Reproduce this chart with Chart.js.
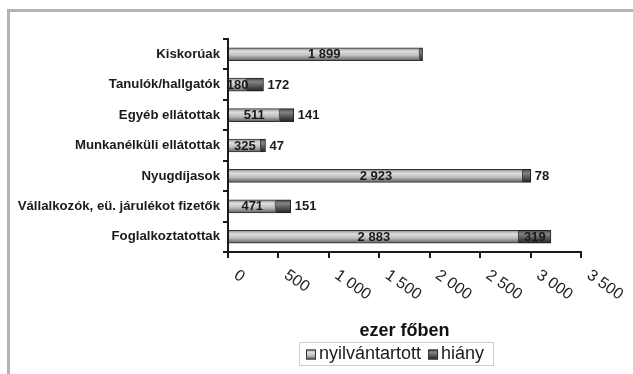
<!DOCTYPE html>
<html><head><meta charset="utf-8">
<script src="https://cdn.jsdelivr.net/npm/chart.js@4"></script>
<style>html,body{margin:0;padding:0;background:#fff;} canvas{display:block;}</style>
</head><body>
<canvas id="c" width="633" height="374"></canvas>
<script>
const categories = ['Kiskorúak','Tanulók/hallgatók','Egyéb ellátottak','Munkanélküli ellátottak','Nyugdíjasok','Vállalkozók, eü. járulékot fizetők','Foglalkoztatottak'];
const nyilvantartott = [1899,180,511,325,2923,471,2883];
const hiany = [30,172,141,47,78,151,319];
const xTicks = [0,500,1000,1500,2000,2500,3000,3500];
const seriesNames = ['nyilvántartott','hiány'];
const axisTitle = 'ezer főben';

const FONT = "'Liberation Sans', Arial, sans-serif";
const lightStops = [[0,'#8c8c8c'],[0.28,'#dedede'],[0.6,'#bdbdbd'],[1,'#5c5c5c']];
const darkStops = [[0,'#444'],[0.28,'#858585'],[0.6,'#585858'],[1,'#222']];
const BAR_H = 13;

function fmt(v){ return String(v).replace(/\B(?=(\d{3})+(?!\d))/g,' '); }
function grad(ctx2d, y0, y1, stops){ const g = ctx2d.createLinearGradient(0,y0,0,y1); stops.forEach(s=>g.addColorStop(s[0],s[1])); return g; }
function barFill(stops){
  return function(c){
    const chart = c.chart, y = chart.scales && chart.scales.y;
    if (!y || c.dataIndex === undefined) return stops[2][1];
    const yc = y.getPixelForValue(c.dataIndex);
    if (!isFinite(yc)) return stops[2][1];
    return grad(chart.ctx, yc - BAR_H/2, yc + BAR_H/2, stops);
  };
}

const decor = {
  id: 'decor',
  beforeDraw(chart){
    const ctx = chart.ctx;
    ctx.save();
    ctx.fillStyle = '#fff'; ctx.fillRect(0,0,chart.width,chart.height);
    ctx.fillStyle = '#b4b4b4';
    ctx.fillRect(7,9,chart.width-7,3);
    ctx.fillRect(7,9,3,chart.height-9);
    ctx.restore();
  },
  afterDatasetsDraw(chart){
    const ctx = chart.ctx;
    ctx.save();
    ctx.font = 'bold 13px ' + FONT;
    ctx.fillStyle = '#1a1a1a';
    ctx.textBaseline = 'middle';
    const m0 = chart.getDatasetMeta(0), m1 = chart.getDatasetMeta(1);
    m0.data.forEach((el,i)=>{
      ctx.textAlign = 'center';
      ctx.fillText(fmt(nyilvantartott[i]), (el.base + el.x)/2, el.y + 0.5);
    });
    m1.data.forEach((el,i)=>{
      const v = hiany[i];
      if (v < 40) return;
      const w = Math.abs(el.x - el.base);
      if (w > 28) { ctx.textAlign = 'center'; ctx.fillText(fmt(v), (el.base + el.x)/2, el.y + 0.5); }
      else { ctx.textAlign = 'left'; ctx.fillText(fmt(v), el.x + 4, el.y + 0.5); }
    });
    ctx.restore();
  },
  afterDraw(chart){
    const ctx = chart.ctx, xs = chart.scales.x;
    ctx.save();
    ctx.font = '16px ' + FONT;
    ctx.fillStyle = '#222';
    ctx.textAlign = 'left'; ctx.textBaseline = 'top';
    xTicks.forEach(v=>{
      const px = xs.getPixelForValue(v);
      ctx.save(); ctx.translate(px + 12, 267); ctx.rotate(35*Math.PI/180);
      ctx.fillText(fmt(v), 0, 0); ctx.restore();
    });
    const lx = 299.5, ly = 342.5, lw = 194, lh = 23;
    ctx.strokeStyle = '#cfcfcf'; ctx.lineWidth = 1;
    ctx.strokeRect(lx, ly, lw, lh);
    ctx.font = '18px ' + FONT;
    ctx.textBaseline = 'middle';
    const cy = ly + lh/2 + 0.5;
    let x = 306;
    const stopsArr = [lightStops, darkStops];
    chart.data.datasets.forEach((ds,i)=>{
      ctx.fillStyle = grad(ctx, cy-5, cy+5, stopsArr[i]);
      ctx.fillRect(x, cy-5, 10, 10);
      ctx.strokeStyle = '#333'; ctx.strokeRect(x+0.5, cy-4.5, 9, 9);
      ctx.fillStyle = '#1a1a1a';
      ctx.fillText(ds.label, x + 13, cy);
      x += 13 + ctx.measureText(ds.label).width + 7;
    });
    ctx.restore();
  }
};

new Chart(document.getElementById('c'), {
  type: 'bar',
  data: {
    labels: categories,
    datasets: [
      { label: seriesNames[0], data: nyilvantartott, backgroundColor: barFill(lightStops), borderColor: '#333', borderWidth: 1, barThickness: BAR_H },
      { label: seriesNames[1], data: hiany, backgroundColor: barFill(darkStops), borderColor: '#222', borderWidth: 1, barThickness: BAR_H }
    ]
  },
  options: {
    indexAxis: 'y',
    responsive: false,
    animation: false,
    devicePixelRatio: 1,
    layout: { padding: { left: 0, right: 52, top: 39, bottom: 32 } },
    plugins: { legend: { display: false }, tooltip: { enabled: false } },
    scales: {
      x: {
        stacked: true, min: 0, max: 3500,
        ticks: { display: false, stepSize: 500 },
        grid: { drawOnChartArea: false, drawTicks: true, tickLength: 6, color: '#1a1a1a', lineWidth: 2 },
        border: { color: '#1a1a1a', width: 2 },
        title: { display: true, text: axisTitle, color: '#111', font: { family: FONT, size: 18, weight: 'bold' }, padding: 0 },
        afterFit(s){ s.height = 90; }
      },
      y: {
        stacked: true,
        ticks: { color: '#1a1a1a', font: { family: FONT, size: 13.2, weight: 'bold' }, padding: 3 },
        grid: { drawOnChartArea: false, drawTicks: true, tickLength: 5, color: '#1a1a1a', lineWidth: 2 },
        border: { color: '#1a1a1a', width: 2 },
        afterFit(s){ s.width = 228; }
      }
    }
  },
  plugins: [decor]
});
</script>
</body></html>
